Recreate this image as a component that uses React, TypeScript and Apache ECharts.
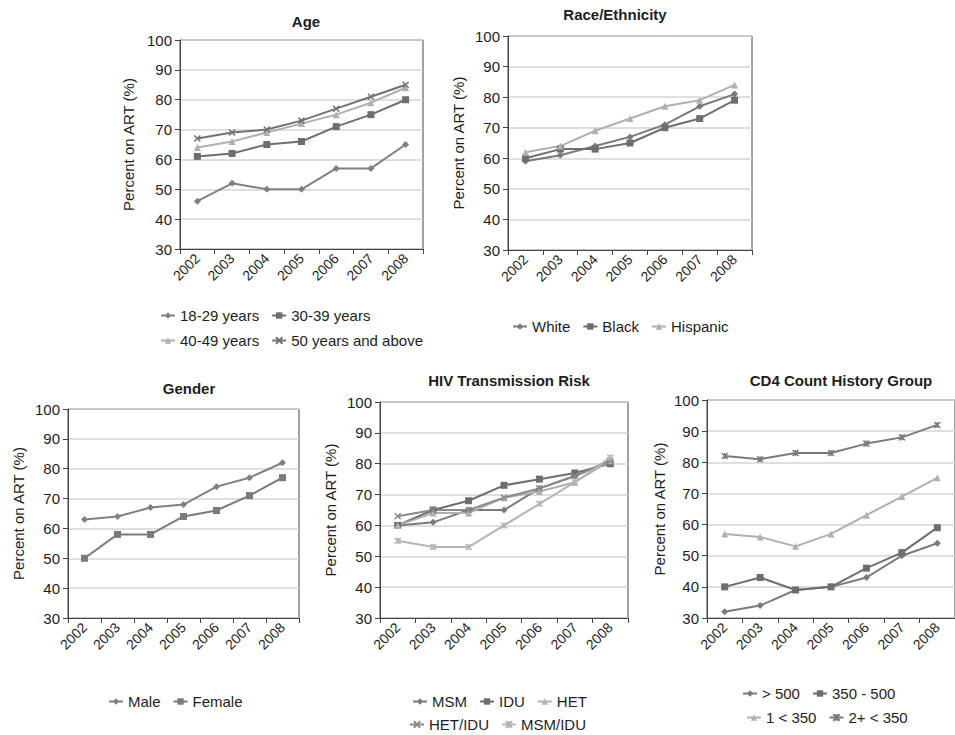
import React, { useEffect, useRef } from "react";
import * as echarts from "echarts";

const years = ["2002", "2003", "2004", "2005", "2006", "2007", "2008"];
const yTicks = [30, 40, 50, 60, 70, 80, 90, 100];

// Age
const age1829 = [46, 52, 50, 50, 57, 57, 65];
const age3039 = [61, 62, 65, 66, 71, 75, 80];
const age4049 = [64, 66, 69, 72, 75, 79, 84];
const age50 = [67, 69, 70, 73, 77, 81, 85];
// Race/Ethnicity
const raceWhite = [59, 61, 64, 67, 71, 77, 81];
const raceBlack = [60, 63, 63, 65, 70, 73, 79];
const raceHispanic = [62, 64, 69, 73, 77, 79, 84];
// Gender
const genderMale = [63, 64, 67, 68, 74, 77, 82];
const genderFemale = [50, 58, 58, 64, 66, 71, 77];
// HIV Transmission Risk
const riskMSM = [60, 61, 65, 65, 72, 76, 81];
const riskIDU = [60, 65, 68, 73, 75, 77, 80];
const riskHET = [60, 64, 64, 69, 71, 74, 81];
const riskHETIDU = [63, 65, 65, 69, 72, 76, 81];
const riskMSMIDU = [55, 53, 53, 60, 67, 74, 82];
// CD4 Count History Group
const cd4Over500 = [32, 34, 39, 40, 43, 50, 54];
const cd4From350 = [40, 43, 39, 40, 46, 51, 59];
const cd4One350 = [57, 56, 53, 57, 63, 69, 75];
const cd4Two350 = [82, 81, 83, 83, 86, 88, 92];

const FONT = "'Liberation Sans', Arial, Helvetica, sans-serif";
const TXT = "#1e1e1e";
const AX = "#444";
const X_SYM = "path://M0,0L10,10M10,0L0,10";
const STAR_SYM = "path://M0,0L10,10M10,0L0,10M5,0L5,10";

const grids = [
  { left: 180, top: 40, width: 243, height: 209 },
  { left: 508, top: 36, width: 244, height: 214 },
  { left: 68, top: 409, width: 231, height: 209 },
  { left: 380, top: 402, width: 248, height: 216 },
  { left: 707, top: 400, width: 254, height: 218 },
];
const nameGaps = [44, 42, 42, 42, 40];

function mk(name: string, data: number[], idx: number, symbol: string, color: string, size: number) {
  const isPath = symbol.startsWith("path://");
  return {
    type: "line",
    name,
    data,
    xAxisIndex: idx,
    yAxisIndex: idx,
    symbol,
    symbolSize: size,
    showSymbol: true,
    lineStyle: { color, width: 2 },
    itemStyle: { color, borderColor: color, borderWidth: isPath ? 1.5 : 0 },
    emphasis: { disabled: true },
  };
}

export default function App() {
  const ref = useRef<HTMLDivElement>(null);
  useEffect(() => {
    document.body.style.margin = "0";
    if (!ref.current) return;
    const chart = echarts.init(ref.current, null, { renderer: "svg" });
    const legendBase = {
      orient: "horizontal",
      itemWidth: 14,
      itemHeight: 8,
      itemGap: 12,
      padding: 0,
      textStyle: { fontSize: 15, color: TXT, fontFamily: FONT },
    };
    const titleStyle = { fontSize: 15, fontWeight: "bold", color: TXT, fontFamily: FONT };
    chart.setOption({
      animation: false,
      backgroundColor: "#ffffff",
      title: [
        { text: "Age", left: 301, top: 9, textAlign: "center", textStyle: titleStyle },
        { text: "Race/Ethnicity", left: 610, top: 2, textAlign: "center", textStyle: titleStyle },
        { text: "Gender", left: 184, top: 376, textAlign: "center", textStyle: titleStyle },
        { text: "HIV Transmission Risk", left: 504, top: 368, textAlign: "center", textStyle: titleStyle },
        { text: "CD4 Count History Group", left: 836, top: 368, textAlign: "center", textStyle: titleStyle },
      ],
      grid: grids.map((g) => ({ ...g, show: true, borderColor: AX, borderWidth: 1, containLabel: false })),
      xAxis: grids.map((_, i) => ({
        type: "category",
        gridIndex: i,
        data: years,
        boundaryGap: true,
        axisLine: { show: true, lineStyle: { color: AX, width: 1 } },
        axisTick: { show: true, length: 5, lineStyle: { color: AX } },
        axisLabel: { rotate: 45, fontSize: 14, color: TXT, fontFamily: FONT, margin: 7 },
        splitLine: { show: false },
      })),
      yAxis: grids.map((_, i) => ({
        type: "value",
        gridIndex: i,
        min: yTicks[0],
        max: yTicks[yTicks.length - 1],
        interval: 10,
        axisLine: { show: true, lineStyle: { color: AX, width: 1 } },
        axisTick: { show: true, length: 5, lineStyle: { color: AX } },
        axisLabel: { fontSize: 15, color: TXT, fontFamily: FONT, margin: 8 },
        splitLine: { show: true, lineStyle: { color: "#d4d4d4", width: 1.5 } },
        name: "Percent on ART (%)",
        nameLocation: "middle",
        nameGap: nameGaps[i],
        nameTextStyle: { fontSize: 15, color: TXT, fontFamily: FONT },
      })),
      legend: [
        { ...legendBase, left: 160, top: 308, data: ["18-29 years", "30-39 years"] },
        { ...legendBase, left: 160, top: 333, data: ["40-49 years", "50 years and above"] },
        { ...legendBase, left: 512, top: 319, data: ["White", "Black", "Hispanic"] },
        { ...legendBase, left: 108, top: 694, data: ["Male", "Female"] },
        { ...legendBase, left: 412, top: 694, data: ["MSM", "IDU", "HET"] },
        { ...legendBase, left: 409, top: 717, data: ["HET/IDU", "MSM/IDU"] },
        { ...legendBase, left: 742, top: 686, data: ["> 500", "350 - 500"] },
        { ...legendBase, left: 746, top: 710, data: ["1 < 350", "2+ < 350"] },
      ],
      series: [
        mk("18-29 years", age1829, 0, "diamond", "#808080", 7),
        mk("30-39 years", age3039, 0, "rect", "#6e6e6e", 7),
        mk("40-49 years", age4049, 0, "triangle", "#b0b0b0", 7),
        mk("50 years and above", age50, 0, X_SYM, "#727272", 6),
        mk("White", raceWhite, 1, "diamond", "#7a7a7a", 7),
        mk("Black", raceBlack, 1, "rect", "#6e6e6e", 7),
        mk("Hispanic", raceHispanic, 1, "triangle", "#b0b0b0", 7),
        mk("Male", genderMale, 2, "diamond", "#808080", 7),
        mk("Female", genderFemale, 2, "rect", "#7a7a7a", 7),
        mk("MSM", riskMSM, 3, "diamond", "#7a7a7a", 7),
        mk("IDU", riskIDU, 3, "rect", "#6e6e6e", 7),
        mk("HET", riskHET, 3, "triangle", "#b0b0b0", 7),
        mk("HET/IDU", riskHETIDU, 3, X_SYM, "#8a8a8a", 6),
        mk("MSM/IDU", riskMSMIDU, 3, STAR_SYM, "#b5b5b5", 6),
        mk("> 500", cd4Over500, 4, "diamond", "#7a7a7a", 7),
        mk("350 - 500", cd4From350, 4, "rect", "#6e6e6e", 7),
        mk("1 < 350", cd4One350, 4, "triangle", "#b0b0b0", 7),
        mk("2+ < 350", cd4Two350, 4, STAR_SYM, "#7a7a7a", 6),
      ],
    });
    return () => chart.dispose();
  }, []);
  return <div ref={ref} style={{ width: 955, height: 735 }} />;
}
